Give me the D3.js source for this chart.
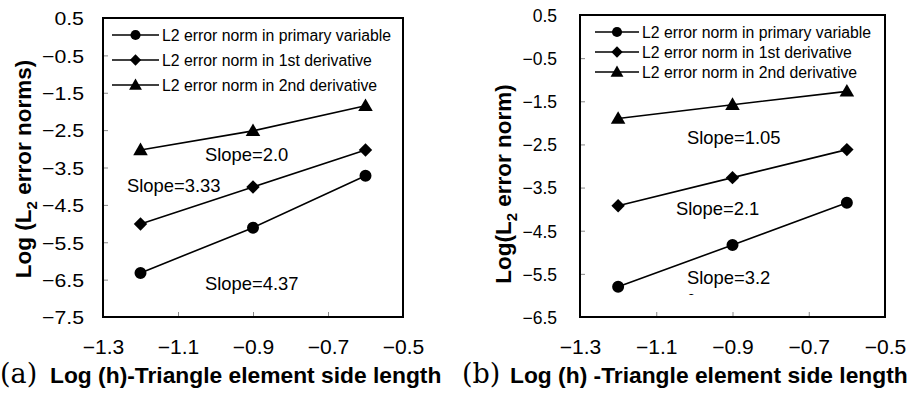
<!DOCTYPE html>
<html>
<head>
<meta charset="utf-8">
<script src="https://cdn.jsdelivr.net/npm/d3@7"></script>
<style>
  body { margin: 0; background: #fff; }
  text { font-family: "Liberation Sans", Arial, sans-serif; fill: #000; }
  .frame { fill: none; stroke: #000; stroke-width: 2px; }
  .series { fill: none; stroke: #000; stroke-width: 1.6px; }
  .axis path { display: none; }
  .axis line { stroke: #888; stroke-width: 1px; }
</style>
</head>
<body>
<script>
//data
var logH = [-1.2, -0.9, -0.6];

var primaryA = [-6.32, -5.11, -3.72],
    firstA = [-5.01, -4.02, -3.03],
    secondA = [-3.03, -2.52, -1.85];

var primaryB = [-5.80, -4.83, -3.85],
    firstB = [-3.92, -3.27, -2.62],
    secondB = [-1.90, -1.58, -1.27];

var legendLabels = ["L2 error norm in primary variable",
                    "L2 error norm in 1st derivative",
                    "L2 error norm in 2nd derivative"];

var xTicks = [-1.3, -1.1, -0.9, -0.7, -0.5];
var yTicksA = [0.5, -0.5, -1.5, -2.5, -3.5, -4.5, -5.5, -6.5, -7.5];
var yTicksB = [0.5, -0.5, -1.5, -2.5, -3.5, -4.5, -5.5, -6.5];

var slopesA = ["Slope=2.0", "Slope=3.33", "Slope=4.37"];
var slopesB = ["Slope=1.05", "Slope=2.1", "Slope=3.2"];

var svg = d3.select("body").append("svg")
    .attr("width", 921)
    .attr("height", 394);

var markers = [
    d3.symbol().type(d3.symbolCircle).size(113),
    d3.symbol().type(d3.symbolSquare).size(90),
    d3.symbol().type(d3.symbolTriangle).size(92)
];
var markerRot = [0, 45, 0];
var legendMarkers = [
    d3.symbol().type(d3.symbolCircle).size(80),
    d3.symbol().type(d3.symbolSquare).size(64),
    d3.symbol().type(d3.symbolTriangle).size(72)
];

//draw one panel
function drawPanel(p){
    var x = d3.scaleLinear().domain([-1.3, -0.5]).range([p.left, p.right]);
    var y = d3.scaleLinear().domain(p.yDomain).range([p.bottom, p.top]);

    var g = svg.append("g");

    //y axis
    var yAxis = d3.axisLeft(y)
        .tickValues(p.yTicks)
        .tickFormat(d3.format(".1f"))
        .tickSizeInner(-5)
        .tickSizeOuter(0)
        .tickPadding(p.yPad);
    g.append("g")
        .attr("class", "axis")
        .attr("transform", "translate(" + p.left + ",0)")
        .call(yAxis)
        .selectAll("text")
        .style("font-size", p.yFont + "px")
        .attr("dy", "0.36em")
        .attr("transform", "scale(" + p.yStretch + ",1)");

    //x axis
    var xAxis = d3.axisBottom(x)
        .tickValues(xTicks)
        .tickFormat(d3.format(".1f"))
        .tickSizeInner(-5)
        .tickSizeOuter(0)
        .tickPadding(30);
    g.append("g")
        .attr("class", "axis")
        .attr("transform", "translate(0," + p.bottom + ")")
        .call(xAxis)
        .selectAll("text")
        .style("font-size", "19.5px")
        .attr("dy", "0.36em")
        .attr("transform", "scale(1.08,1)");

    //frame
    g.append("rect")
        .attr("class", "frame")
        .attr("x", p.left)
        .attr("y", p.top)
        .attr("width", p.right - p.left)
        .attr("height", p.bottom - p.top);

    //series lines and markers
    var line = d3.line()
        .x(function(d, i){ return x(logH[i]); })
        .y(function(d){ return y(d); });

    p.series.forEach(function(vals, s){
        g.append("path")
            .datum(vals)
            .attr("class", "series")
            .attr("d", line);
        g.selectAll(".m" + s)
            .data(vals)
            .enter()
            .append("path")
            .attr("class", "m" + s)
            .attr("d", markers[s])
            .attr("transform", function(d, i){
                var dy = s == 2 ? 1 : 0;
                return "translate(" + x(logH[i]) + "," + (y(d) + dy) + ") rotate(" + markerRot[s] + ")";
            });
    });

    //legend
    legendLabels.forEach(function(lab, s){
        var ly = p.legend.y[s];
        g.append("line")
            .attr("x1", p.legend.x1).attr("x2", p.legend.x2)
            .attr("y1", ly).attr("y2", ly)
            .attr("stroke", "#000").attr("stroke-width", 1.6);
        g.append("path")
            .attr("d", legendMarkers[s])
            .attr("transform", "translate(" + ((p.legend.x1 + p.legend.x2) / 2) + "," + (ly + (s == 2 ? 1 : 0)) + ") rotate(" + markerRot[s] + ")");
        g.append("text")
            .attr("x", p.legend.x2 + 3)
            .attr("y", ly)
            .attr("dy", "0.36em")
            .style("font-size", "15.8px")
            .text(lab);
    });

    //slope notes
    p.notes.forEach(function(n, i){
        g.append("text")
            .attr("x", p.left + n[0])
            .attr("y", p.top + n[1])
            .attr("dy", "0.36em")
            .style("font-size", "18.4px")
            .text(p.slopes[i]);
    });

    //axis titles
    var yt = g.append("text")
        .attr("transform", "translate(" + p.yTitle[0] + "," + p.yTitle[1] + ") rotate(-90)")
        .attr("text-anchor", "middle")
        .style("font-size", "22.5px")
        .style("font-weight", "bold");
    yt.append("tspan").text(p.yTitleParts[0]);
    yt.append("tspan").attr("dy", 6).style("font-size", "15px").text("2");
    yt.append("tspan").attr("dy", -6).text(p.yTitleParts[1]);

    g.append("text")
        .attr("x", p.xTitle[0])
        .attr("y", 383)
        .style("font-family", "'DejaVu Serif', serif")
        .style("font-size", "27px")
        .style("font-weight", "normal")
        .text(p.tag);
    g.append("text")
        .attr("x", p.xTitle[1])
        .attr("y", 383)
        .style("font-size", "22.8px")
        .style("font-weight", "bold")
        .text(p.xTitleText);

    return g;
}

drawPanel({
    left: 103, right: 403, top: 18, bottom: 317,
    yDomain: [-7.5, 0.5], yTicks: yTicksA, yPad: 17, yFont: 19, yStretch: 1.12,
    series: [primaryA, firstA, secondA],
    legend: { x1: 112, x2: 159, y: [35, 60, 85] },
    slopes: slopesA,
    notes: [[102, 136], [24, 167], [102, 265]],
    yTitle: [31, 169], yTitleParts: ["Log (L", " error norms)"],
    tag: "(a)", xTitle: [0, 50],
    xTitleText: "Log (h)-Triangle element side length"
});

var pb = drawPanel({
    left: 580, right: 885, top: 15, bottom: 317,
    yDomain: [-6.5, 0.5], yTicks: yTicksB, yPad: 23, yFont: 17.5, yStretch: 1.0,
    series: [primaryB, firstB, secondB],
    legend: { x1: 595, x2: 639, y: [32, 52, 72] },
    slopes: slopesB,
    notes: [[107, 122], [96, 193], [107, 262]],
    yTitle: [511, 184], yTitleParts: ["Log(L", " error norm)"],
    tag: "(b)", xTitle: [462, 510],
    xTitleText: "Log (h) -Triangle element side length"
});

//small clipped glyph left under the last slope note
pb.append("clipPath").attr("id", "cut")
    .append("rect").attr("x", 680).attr("y", 290).attr("width", 20).attr("height", 5);
pb.append("text")
    .attr("x", 687).attr("y", 303)
    .attr("clip-path", "url(#cut)")
    .style("font-size", "16px")
    .text("c");
</script>
</body>
</html>
